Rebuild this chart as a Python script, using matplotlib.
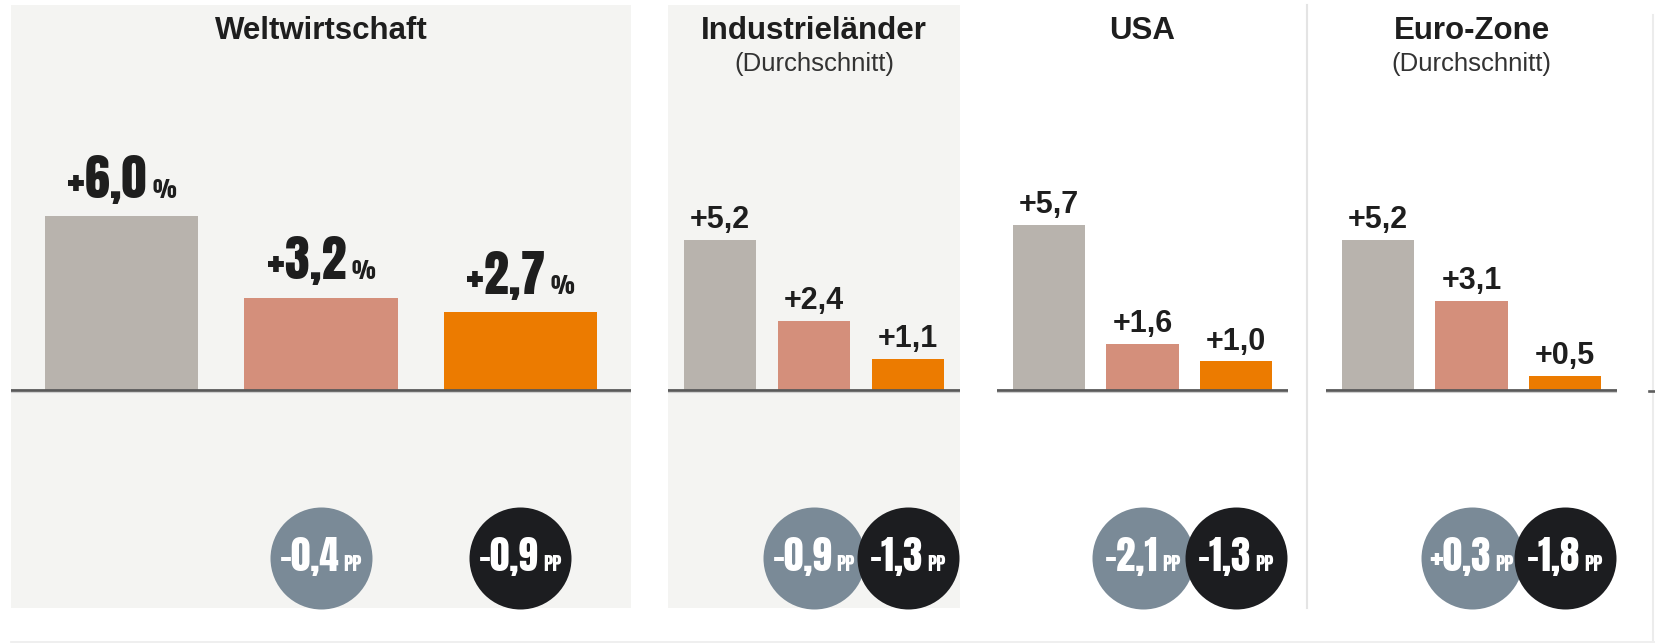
import matplotlib
matplotlib.use("Agg")
import matplotlib.pyplot as plt
from matplotlib.offsetbox import TextArea, HPacker, AnnotationBbox
from matplotlib.transforms import blended_transform_factory
from matplotlib.lines import Line2D

# ---------------- data ----------------
panels = ["Weltwirtschaft", "Industrieländer", "USA", "Euro-Zone"]
subtitles = ["", "(Durchschnitt)", "", "(Durchschnitt)"]
welt = [6.0, 3.2, 2.7]
industrie = [5.2, 2.4, 1.1]
usa = [5.7, 1.6, 1.0]
euro = [5.2, 3.1, 0.5]
values = [welt, industrie, usa, euro]
change_mid = [-0.4, -0.9, -2.1, 0.3]    # grey circles (under 2nd bar)
change_last = [-0.9, -1.3, -1.3, -1.8]  # black circles (under 3rd bar)

bar_colors = ["#b8b3ad", "#d48f7b", "#ec7b00"]
circle_colors = ["#7a8a97", "#1c1d20"]
panel_bg = ["#f4f4f2", "#f4f4f2", "#ffffff", "#ffffff"]

W, H = 1655, 643
COND = ["Anton", "DejaVu Sans"]
SANS = ["Liberation Sans", "DejaVu Sans"]

fig = plt.figure(figsize=(W / 100, H / 100), dpi=100)
fig.patch.set_facecolor("white")

# layout in pixels
top_px, bot_px, base_px = 5, 608, 390.5
px_per_unit = 29.0
panel_x = [(11, 631), (668, 960), (997, 1288), (1326, 1617)]
xlim = (-0.555, 2.555)
ylim = (-(bot_px - base_px) / px_per_unit, (base_px - top_px) / px_per_unit)
circle_center_px = 558
circle_diam_px = 102


def fmt(v):
    return f"{v:+.1f}".replace(".", ",")


for p, (x0, x1) in enumerate(panel_x):
    ax = fig.add_axes([x0 / W, 1 - bot_px / H, (x1 - x0) / W, (bot_px - top_px) / H])
    ax.set_facecolor(panel_bg[p])
    ax.set_xlim(*xlim)
    ax.set_ylim(*ylim)
    for s in ax.spines.values():
        s.set_visible(False)
    ax.set_xticks([])
    ax.set_yticks([])

    vals = values[p]
    xs = list(range(len(vals)))
    ax.bar(xs, vals, width=0.77, color=bar_colors, zorder=2)
    ax.axhline(0, color="#5a5a5a", lw=2.0, zorder=3)
    ax.axhline(-0.06, color="#cfcfcf", lw=0.8, zorder=3)

    # value labels
    for i, v in zip(xs, vals):
        if p == 0:
            box = HPacker(children=[
                TextArea(fmt(v), textprops=dict(fontsize=36, family=COND,
                                                color="#1e1e1e")),
                TextArea("%", textprops=dict(fontsize=16, family=COND,
                                             color="#1e1e1e")),
            ], align="baseline", pad=0, sep=4)
            ab = AnnotationBbox(box, (i, v), xybox=(0, 9), xycoords="data",
                                boxcoords="offset points", box_alignment=(0.5, 0),
                                frameon=False, pad=0, annotation_clip=False, zorder=4)
            ax.add_artist(ab)
        else:
            ax.annotate(fmt(v), (i, v), xytext=(0, 8.5), textcoords="offset points",
                        ha="center", va="baseline", fontsize=22, fontweight="bold",
                        family=SANS, color="#1e1e1e", zorder=4)

    # change circles
    tr = blended_transform_factory(ax.transData, ax.transAxes)
    cy = (bot_px - circle_center_px) / (bot_px - top_px)
    size = (circle_diam_px * 0.72) ** 2
    for k, (i, ch) in enumerate([(1, change_mid[p]), (2, change_last[p])]):
        ax.scatter([i], [cy], s=size, color=circle_colors[k], transform=tr,
                   linewidths=0, zorder=5 + 2 * k, clip_on=False)
        box = HPacker(children=[
            TextArea(fmt(ch), textprops=dict(fontsize=28, family=COND, color="white")),
            TextArea("PP", textprops=dict(fontsize=14, family=COND, color="white")),
        ], align="baseline", pad=0, sep=3)
        ab = AnnotationBbox(box, (i, cy), xycoords=tr, box_alignment=(0.5, 0.45),
                            frameon=False, pad=0, annotation_clip=False,
                            zorder=6 + 2 * k)
        ax.add_artist(ab)

    # titles
    ax.text(0.5, 1 - (31 - top_px) / (bot_px - top_px), panels[p],
            transform=ax.transAxes, ha="center", va="center", fontsize=22.5,
            fontweight="bold", family=SANS, color="#1e1e1e")
    if subtitles[p]:
        ax.text(0.5, 1 - (64 - top_px) / (bot_px - top_px), subtitles[p],
                transform=ax.transAxes, ha="center", va="center", fontsize=18.5,
                family=SANS, color="#333333")

# separators and frame lines
fig.add_artist(Line2D([1307 / W, 1307 / W], [1 - 5 / H, 1 - 608 / H],
                      color="#e4e4e4", lw=1.5))
fig.add_artist(Line2D([1653 / W, 1653 / W], [1 - 15 / H, 1 - 640 / H],
                      color="#ececec", lw=1.5))
fig.add_artist(Line2D([1649 / W, 1655 / W], [1 - 391 / H, 1 - 391 / H],
                      color="#5e5e5e", lw=1.9))
fig.add_artist(Line2D([11 / W, 1655 / W], [1 - 641.5 / H, 1 - 641.5 / H],
                      color="#ececec", lw=1.2))

fig.savefig("out.png", dpi=100)
